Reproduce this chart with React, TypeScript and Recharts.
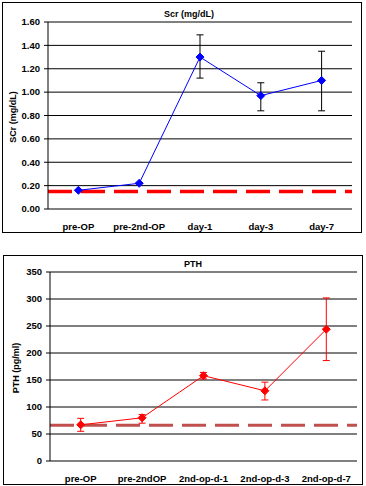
import {
  CartesianGrid,
  ErrorBar,
  Line,
  LineChart,
  ReferenceLine,
  XAxis,
  YAxis,
} from "recharts";

const scrCategories = ["pre-OP", "pre-2nd-OP", "day-1", "day-3", "day-7"];
const scrMean = [0.16, 0.22, 1.3, 0.97, 1.1];
const scrLow = [0.16, 0.22, 1.12, 0.84, 0.84];
const scrHigh = [0.16, 0.22, 1.49, 1.08, 1.35];
const scrTicks = [0, 0.2, 0.4, 0.6, 0.8, 1.0, 1.2, 1.4, 1.6];
const scrBaseline = 0.15;

const pthCategories = ["pre-OP", "pre-2ndOP", "2nd-op-d-1", "2nd-op-d-3", "2nd-op-d-7"];
const pthMean = [67, 80, 158, 130, 244];
const pthLow = [55, 70, 152, 113, 186];
const pthHigh = [79, 86, 164, 146, 302];
const pthTicks = [0, 50, 100, 150, 200, 250, 300, 350];
const pthBaseline = 66;

const font = "'Liberation Sans', Arial, sans-serif";
const tickStyle = { fontSize: 9.5, fontWeight: 700, fill: "#000", fontFamily: font };

type PanelProps = {
  title: string;
  yLabel: string;
  categories: string[];
  mean: number[];
  low: number[];
  high: number[];
  ticks: number[];
  decimals: number;
  baseline: number;
  lineColor: string;
  errColor: string;
  baseColor: string;
  baseWidth: number;
  box: { left: number; top: number; width: number; height: number };
  margin: { top: number; right: number; bottom: number };
  yWidth: number;
  titleX: number;
  titleY: number;
  yLabelX: number;
};

function Diamond(color: string) {
  return (p: any) => {
    const { cx, cy, index } = p;
    if (cx == null || cy == null) return <g key={index} />;
    const r = 4;
    return (
      <path
        key={index}
        d={`M${cx},${cy - r}L${cx + r},${cy}L${cx},${cy + r}L${cx - r},${cy}Z`}
        fill={color}
        stroke={color}
      />
    );
  };
}

function Panel(pr: PanelProps) {
  const n = pr.categories.length;
  const data = pr.categories.map((c, i) => ({
    x: i + 0.5,
    name: c,
    v: pr.mean[i],
    err: [pr.mean[i] - pr.low[i], pr.high[i] - pr.mean[i]],
  }));
  const top = pr.ticks[pr.ticks.length - 1];
  const edges = Array.from({ length: n + 1 }, (_, i) => i);
  const centers = data.map((d) => d.x);
  const plotH = pr.box.height - pr.margin.top - pr.margin.bottom - 20;
  return (
    <div
      style={{
        position: "absolute",
        left: pr.box.left,
        top: pr.box.top,
        width: pr.box.width,
        height: pr.box.height,
        border: "1px solid #000",
        background: "#fff",
        boxSizing: "border-box",
      }}
    >
      <div
        style={{
          position: "absolute",
          left: pr.titleX,
          top: pr.titleY,
          transform: "translateX(-50%)",
          fontFamily: font,
          fontWeight: 700,
          fontSize: 9,
          whiteSpace: "nowrap",
        }}
      >
        {pr.title}
      </div>
      <div
        style={{
          position: "absolute",
          left: pr.yLabelX,
          top: pr.margin.top + plotH / 2,
          transform: "translate(-50%, -50%) rotate(-90deg)",
          fontFamily: font,
          fontWeight: 700,
          fontSize: 9,
          whiteSpace: "nowrap",
        }}
      >
        {pr.yLabel}
      </div>
      <LineChart
        width={pr.box.width - 2}
        height={pr.box.height - 2}
        data={data}
        margin={{ top: pr.margin.top, right: pr.margin.right, bottom: pr.margin.bottom, left: 0 }}
        style={{ position: "absolute", left: 0, top: 0 }}
      >
        <CartesianGrid vertical={false} stroke="#000" strokeWidth={1} />
        <XAxis
          xAxisId="edge"
          dataKey="x"
          type="number"
          domain={[0, n]}
          ticks={edges}
          tick={false}
          height={0}
          tickSize={4}
          axisLine={{ stroke: "#000" }}
          tickLine={{ stroke: "#000" }}
          allowDataOverflow
        />
        <XAxis
          xAxisId="lab"
          dataKey="x"
          type="number"
          domain={[0, n]}
          ticks={centers}
          height={20}
          axisLine={false}
          tickLine={false}
          tickMargin={8}
          tick={tickStyle}
          tickFormatter={(v: number) => pr.categories[Math.floor(v)]}
          interval={0}
        />
        <YAxis
          width={pr.yWidth}
          domain={[0, top]}
          ticks={pr.ticks}
          interval={0}
          tickSize={4}
          tickMargin={4}
          axisLine={{ stroke: "#000" }}
          tickLine={{ stroke: "#000" }}
          tick={tickStyle}
          tickFormatter={(v: number) => v.toFixed(pr.decimals)}
        />
        <ReferenceLine
          xAxisId="lab"
          y={pr.baseline}
          stroke={pr.baseColor}
          strokeWidth={pr.baseWidth}
          strokeDasharray="24 9"
        />
        <Line
          xAxisId="lab"
          dataKey="v"
          stroke={pr.lineColor}
          strokeWidth={1}
          dot={Diamond(pr.lineColor)}
          activeDot={false}
          isAnimationActive={false}
        >
          <ErrorBar dataKey="err" direction="y" width={3.5} stroke={pr.errColor} strokeWidth={1} />
        </Line>
      </LineChart>
    </div>
  );
}

export default function App() {
  return (
    <div style={{ position: "absolute", left: 0, top: 0, width: 366, height: 486, background: "#fff" }}>
      <Panel
        title="Scr (mg/dL)"
        yLabel="SCr (mg/dL)"
        categories={scrCategories}
        mean={scrMean}
        low={scrLow}
        high={scrHigh}
        ticks={scrTicks}
        decimals={2}
        baseline={scrBaseline}
        lineColor="#0000FF"
        errColor="#000"
        baseColor="#FF0000"
        baseWidth={3.5}
        box={{ left: 2, top: 2, width: 360, height: 231 }}
        margin={{ top: 19, right: 9, bottom: 3 }}
        yWidth={45}
        titleX={186}
        titleY={6}
        yLabelX={10}
      />
      <Panel
        title="PTH"
        yLabel="PTH (pg/ml)"
        categories={pthCategories}
        mean={pthMean}
        low={pthLow}
        high={pthHigh}
        ticks={pthTicks}
        decimals={0}
        baseline={pthBaseline}
        lineColor="#FF0000"
        errColor="#FF0000"
        baseColor="#C0504D"
        baseWidth={3}
        box={{ left: 3, top: 255, width: 360, height: 230 }}
        margin={{ top: 16, right: 5, bottom: 3 }}
        yWidth={46}
        titleX={189}
        titleY={3}
        yLabelX={12}
      />
    </div>
  );
}
